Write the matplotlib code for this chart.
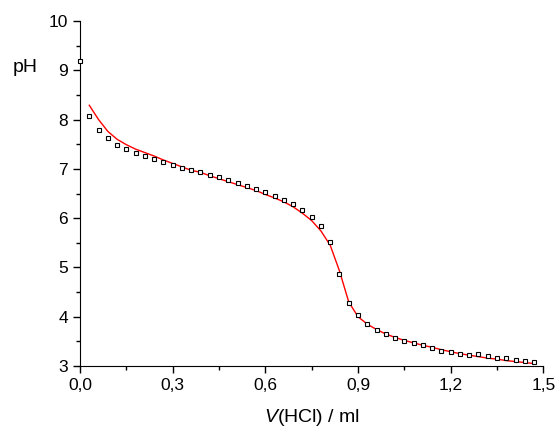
import numpy as np
import matplotlib.pyplot as plt

plt.rcParams['font.family'] = ['Liberation Sans', 'DejaVu Sans']
plt.rcParams['mathtext.fontset'] = 'custom'
plt.rcParams['mathtext.it'] = 'Liberation Sans:italic'
plt.rcParams['mathtext.rm'] = 'Liberation Sans'

# measured titration points
v_exp = np.round(np.arange(0, 50) * 0.03, 2)
ph_exp = [9.19, 8.07, 7.79, 7.62, 7.49, 7.40, 7.33, 7.26, 7.19, 7.13,
          7.08, 7.02, 6.97, 6.93, 6.88, 6.83, 6.77, 6.71, 6.65, 6.59,
          6.53, 6.45, 6.37, 6.28, 6.17, 6.03, 5.84, 5.52, 4.86, 4.28,
          4.03, 3.86, 3.74, 3.65, 3.57, 3.51, 3.47, 3.42, 3.36, 3.31,
          3.28, 3.25, 3.23, 3.24, 3.20, 3.17, 3.16, 3.12, 3.11, 3.08]

# fitted curve
v_fit = v_exp[1:]
ph_fit = [8.29, 8.00, 7.76, 7.60, 7.49, 7.40, 7.33, 7.26, 7.18, 7.11,
          7.04, 6.97, 6.93, 6.86, 6.80, 6.74, 6.68, 6.62, 6.56, 6.48,
          6.41, 6.33, 6.23, 6.10, 5.95, 5.74, 5.45, 4.93, 4.30, 4.00,
          3.85, 3.74, 3.65, 3.58, 3.52, 3.47, 3.42, 3.38, 3.33, 3.29,
          3.25, 3.22, 3.19, 3.16, 3.14, 3.11, 3.09, 3.07, 3.05]

fig = plt.figure(figsize=(5.58, 4.30), dpi=100)
ax = fig.add_axes([0.1434, 0.1488, 0.8303, 0.8024])

ax.plot(v_fit, ph_fit, color='red', lw=1.0)
ax.plot(v_exp, ph_exp, ls='none', marker='s', ms=3.3, mfc='white',
        mec='black', mew=0.8, clip_on=False, zorder=3)

ax.set_xlim(0, 1.5)
ax.set_ylim(3, 10)
ax.set_xticks([0, 0.3, 0.6, 0.9, 1.2, 1.5])
ax.set_xticklabels(['0,0', '0,3', '0,6', '0,9', '1,2', '1,5'])
ax.set_xticks(np.arange(0.15, 1.5, 0.3), minor=True)
ax.set_yticks(range(3, 11))
ax.set_yticks(np.arange(3.5, 10, 1), minor=True)

for s in ['top', 'right']:
    ax.spines[s].set_visible(False)
ax.tick_params(which='major', direction='out', length=5, width=1, labelsize=12.5)
ax.tick_params(which='minor', direction='out', length=3, width=1)

ax.set_xlabel(r'$\it{V}$(HCl) / ml', fontsize=14, labelpad=10)
fig.text(25 / 558, 1 - 68 / 430, 'pH', fontsize=14, ha='center', va='center')

fig.savefig('out.png', dpi=100)
